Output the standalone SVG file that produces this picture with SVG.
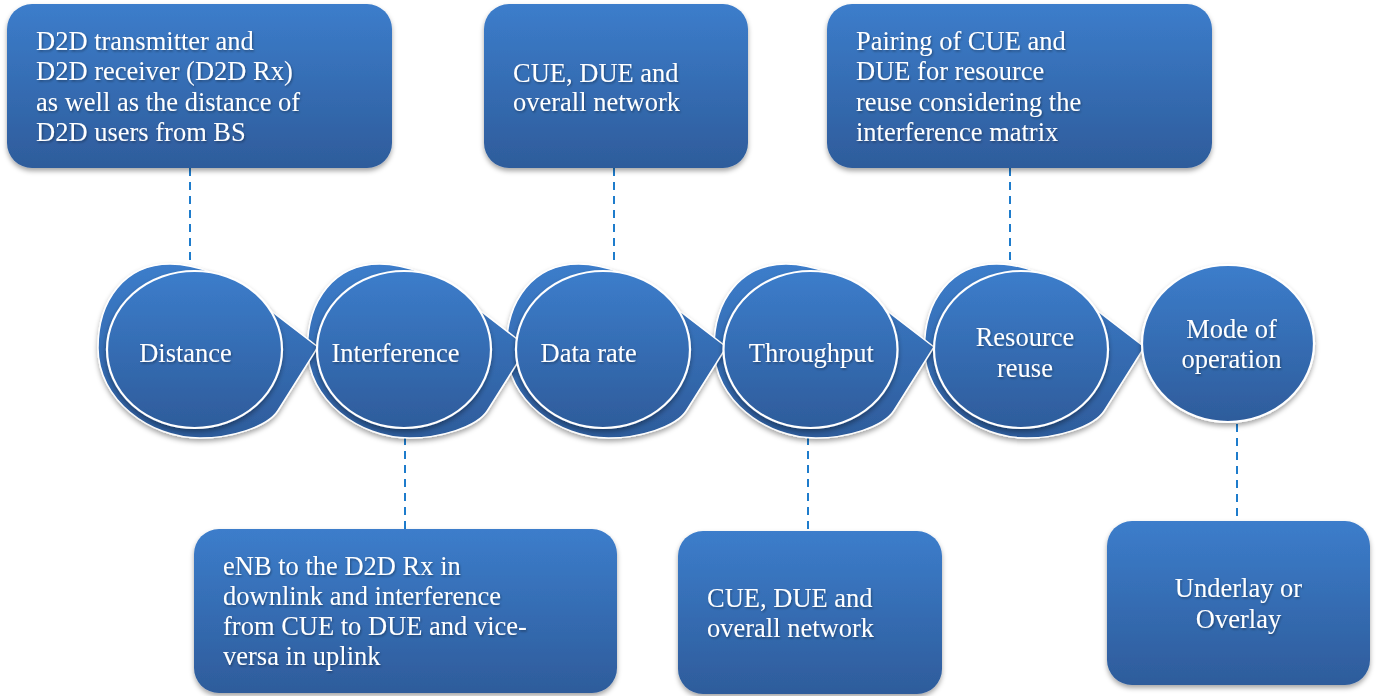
<svg xmlns="http://www.w3.org/2000/svg" xmlns:xlink="http://www.w3.org/1999/xlink" width="1377" height="696" viewBox="0 0 1377 696">
  <defs>
    <linearGradient id="gBlue" x1="0" y1="0" x2="0" y2="1">
      <stop offset="0" stop-color="#3c7dcb"/>
      <stop offset="1" stop-color="#2e5c9b"/>
    </linearGradient>
    <filter id="shadow" x="-10%" y="-10%" width="120%" height="125%">
      <feDropShadow dx="0" dy="3" stdDeviation="2.5" flood-color="#000" flood-opacity="0.35"/>
    </filter>
    <filter id="tshadow" x="-5%" y="-20%" width="110%" height="140%">
      <feDropShadow dx="1" dy="1.5" stdDeviation="1" flood-color="#000" flood-opacity="0.35"/>
    </filter>
    <path id="tear" d="M123.5,-2.5 L60.1,-51.3 C35.1,-70.5 5.5,-85.5 -24.5,-85.5 C-69.5,-85.5 -96.5,-49.5 -96.5,-1.5 C-96.5,50.5 -44.5,88.5 5.5,88.5 C35.5,88.5 72.8,77.9 83.5,61 Z"/>
  </defs>
  <style>
    .box { fill: url(#gBlue); filter: url(#shadow); }
    .back { fill: url(#gBlue); stroke: #ffffff; stroke-width: 1.5; filter: url(#shadow); }
    .front { fill: url(#gBlue); stroke: #ffffff; stroke-width: 2.2; filter: url(#shadow); }
    .conn { stroke: #1e7ccc; stroke-width: 2; stroke-dasharray: 8 6; fill: none; }
    text { font-family: "Liberation Serif", "Times New Roman", serif; font-size: 26.5px; fill: #ffffff; filter: url(#tshadow); }
    .c { text-anchor: middle; }
  </style>

  <rect width="1377" height="696" fill="#ffffff"/>

  <g id="connectors">
    <line class="conn" x1="190" y1="168" x2="190" y2="264"/>
    <line class="conn" x1="614" y1="168" x2="614" y2="266"/>
    <line class="conn" x1="1010" y1="168" x2="1010" y2="264"/>
    <line class="conn" x1="405" y1="437" x2="405" y2="529"/>
    <line class="conn" x1="808" y1="437" x2="808" y2="531"/>
    <line class="conn" x1="1237" y1="424" x2="1237" y2="521"/>
  </g>

  <g id="box-distance">
    <rect class="box" x="7" y="4" width="385" height="164" rx="25"/>
    <text x="36" y="50">D2D transmitter and</text>
    <text x="36" y="80.3">D2D receiver (D2D Rx)</text>
    <text x="36" y="110.6">as well as the distance of</text>
    <text x="36" y="141">D2D users from BS</text>
  </g>
  <g id="box-datarate">
    <rect class="box" x="484" y="4" width="264" height="164" rx="25"/>
    <text x="513" y="81.7">CUE, DUE and</text>
    <text x="513" y="110.5">overall network</text>
  </g>
  <g id="box-resource">
    <rect class="box" x="827" y="4" width="385" height="164" rx="25"/>
    <text x="856" y="50">Pairing of CUE and</text>
    <text x="856" y="80.3">DUE for resource</text>
    <text x="856" y="110.6">reuse considering the</text>
    <text x="856" y="141">interference matrix</text>
  </g>
  <g id="box-interference">
    <rect class="box" x="194" y="529" width="423" height="164" rx="25"/>
    <text x="223" y="574.5">eNB to the D2D Rx in</text>
    <text x="223" y="604.8">downlink and interference</text>
    <text x="223" y="635.1">from CUE to DUE and vice-</text>
    <text x="223" y="665.4">versa in uplink</text>
  </g>
  <g id="box-throughput">
    <rect class="box" x="678" y="531" width="264" height="163" rx="25"/>
    <text x="707" y="606.7">CUE, DUE and</text>
    <text x="707" y="637.3">overall network</text>
  </g>
  <g id="box-mode">
    <rect class="box" x="1107" y="521" width="263" height="164" rx="25"/>
    <text class="c" x="1238.5" y="596.7">Underlay or</text>
    <text class="c" x="1238.5" y="627.7">Overlay</text>
  </g>

  <g id="back-shapes">
    <use class="back" xlink:href="#tear" href="#tear" transform="translate(1021,349.5)"/>
    <use class="back" xlink:href="#tear" href="#tear" transform="translate(810.5,349.5)"/>
    <use class="back" xlink:href="#tear" href="#tear" transform="translate(603,349.5)"/>
    <use class="back" xlink:href="#tear" href="#tear" transform="translate(404,349.5)"/>
    <use class="back" xlink:href="#tear" href="#tear" transform="translate(194.5,349.5)"/>
  </g>

  <g id="node-distance">
    <ellipse class="front" cx="194.5" cy="349.5" rx="87.5" ry="78.5"/>
    <text class="c" x="185.5" y="361.7">Distance</text>
  </g>
  <g id="node-interference">
    <ellipse class="front" cx="404" cy="349.5" rx="87" ry="78.5"/>
    <text class="c" x="395.5" y="361.7">Interference</text>
  </g>
  <g id="node-datarate">
    <ellipse class="front" cx="603" cy="349.5" rx="87" ry="78.5"/>
    <text class="c" x="588.7" y="361.7">Data rate</text>
  </g>
  <g id="node-throughput">
    <ellipse class="front" cx="810.5" cy="349.5" rx="87" ry="78.5"/>
    <text class="c" x="811.3" y="361.7">Throughput</text>
  </g>
  <g id="node-resource">
    <ellipse class="front" cx="1021" cy="349.5" rx="87" ry="78.5"/>
    <text class="c" x="1025" y="345.7">Resource</text>
    <text class="c" x="1025" y="376.7">reuse</text>
  </g>
  <g id="node-mode">
    <ellipse class="front" cx="1228" cy="343.5" rx="86" ry="78.5"/>
    <text class="c" x="1231.5" y="338.3">Mode of</text>
    <text class="c" x="1231.5" y="368.3">operation</text>
  </g>
</svg>
